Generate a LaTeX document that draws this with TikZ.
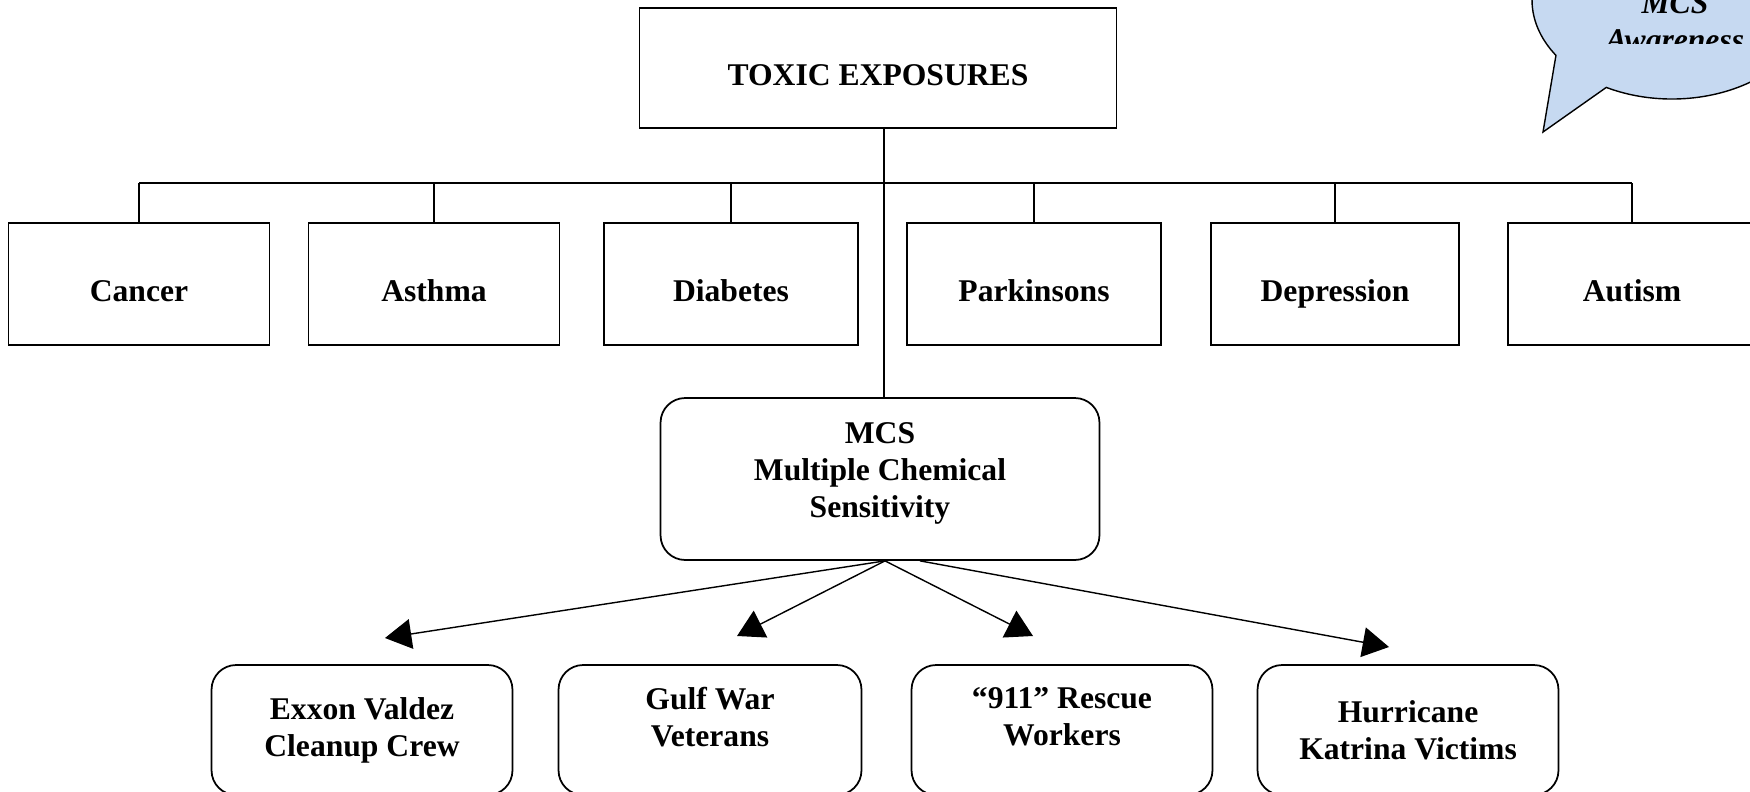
\documentclass[tikz,border=0pt]{standalone}
\usepackage{fontspec}
\setmainfont{Liberation Serif}
\usetikzlibrary{arrows.meta,calc}
\definecolor{calloutblue}{RGB}{198,217,241}
\tikzset{
>={Triangle[length=15pt,width=17pt]},
  box/.style={
    rectangle,
    draw=black, line width=1pt,
    minimum height=2.44cm,
    text height=20pt, text depth=0pt,
    font=\fontsize{18}{21}\selectfont\bfseries},
  roundbox/.style={
    rectangle,
    rounded corners=14pt,
    draw=black, line width=1pt,
    align=center,
    font=\fontsize{18}{21}\selectfont\bfseries},
  line/.style={draw, line width=0.8pt},
  arrowline/.style={draw, line width=0.8pt, ->},
  bubble/.style={fill=calloutblue, draw=black, line width=0.8pt},
}

\begin{document}
\begin{tikzpicture}[x=0.02cm, y=0.02cm]
\useasboundingbox (0,0) rectangle (1750,-791);

% top of the tree
\node[box, minimum width=9.54cm, minimum height=2.4cm] (toxic) at (878,-68) {TOXIC EXPOSURES};

% illnesses
\node[box, minimum width=5.22cm] (cancer) at (139,-284) {Cancer};
\node[box, minimum width=5.02cm] (asthma) at (434,-284) {Asthma};
\node[box, minimum width=5.08cm] (diabetes) at (731,-284) {Diabetes};
\node[box, minimum width=5.08cm] (parkinsons) at (1034,-284) {Parkinsons};
\node[box, minimum width=4.96cm] (depression) at (1335,-284) {Depression};
\node[box, minimum width=4.96cm] (autism) at (1632,-284) {Autism};

\coordinate (bus) at (0,-183);
\draw[line] (cancer.north |- bus) -- (autism.north |- bus);
\foreach \ill in {cancer,asthma,diabetes,parkinsons,depression,autism}
  \draw[line] (\ill.north |- bus) -- (\ill.north);

% MCS
\node[roundbox, minimum width=8.78cm, minimum height=3.24cm, text depth=10pt] (mcs) at (880,-479) {MCS\\Multiple Chemical\\Sensitivity};
\draw[line] ([xshift=0.12cm]toxic.south) -- ([xshift=0.12cm]toxic.south |- mcs.north);

% groups
\node[roundbox, minimum width=6.02cm, minimum height=2.6cm] (exxon) at (362,-730) {Exxon Valdez\\Cleanup Crew};
\node[roundbox, minimum width=6.06cm, minimum height=2.6cm, text depth=15pt] (gulf) at (710,-730) {Gulf War\\Veterans};
\node[roundbox, minimum width=6.02cm, minimum height=2.6cm, text depth=15pt] (rescue) at (1062,-730) {“911” Rescue\\Workers};
\node[roundbox, minimum width=6.02cm, minimum height=2.6cm] (katrina) at (1408,-730) {Hurricane\\Katrina Victims};

\coordinate (tipexxon) at (385,-638);
\coordinate (tipgulf) at (737,-636);
\coordinate (tiprescue) at (1033,-636);
\coordinate (tipkatrina) at (1389,-647);
\draw[arrowline] ([xshift=0.1cm]mcs.south) -- (tipexxon);
\draw[arrowline] ([xshift=0.1cm]mcs.south) -- (tipgulf);
\draw[arrowline] ([xshift=0.1cm]mcs.south) -- (tiprescue);
\draw[arrowline] ([xshift=0.8cm]mcs.south) -- (tipkatrina);

% callout
\coordinate (bubblec) at (1672,0);
\coordinate (tailtip) at (1543,-132);
\filldraw[bubble] (tailtip) -- ($(bubblec)+(242:140 and 99)$) arc[start angle=242, end angle=574, x radius=140, y radius=99] -- cycle;
\begin{scope}
\clip (1400,20) rectangle (1760,-43);
\node[anchor=north, inner sep=0pt, align=center, font=\fontsize{18}{21}\selectfont\bfseries\itshape] (aware) at (1675,8) {MCS\\Awareness};
\end{scope}

\end{tikzpicture}
\end{document}
